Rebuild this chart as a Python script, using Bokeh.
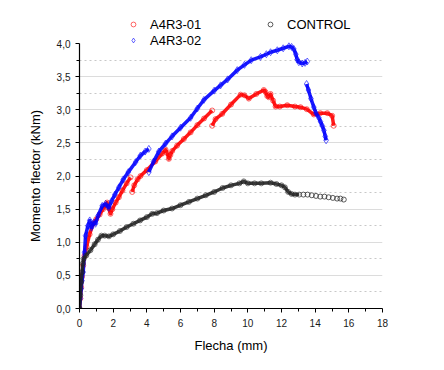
import numpy as np
from bokeh.plotting import figure
from bokeh.models import (Range1d, FixedTicker, CustomJSTickFormatter, Legend, LegendItem)
from bokeh.embed import file_html
from bokeh.resources import INLINE

nan = np.nan

# ---- data ----
red_x = [0.0, 0.05, 0.1, 0.15, 0.22, 0.3, 0.42, 0.6, 0.81, 1.0, 1.2, 1.4, 1.64, 1.72, 1.84, 1.95, 2.15, 2.34, 2.55, 2.8, 3.03,
         nan,
         3.13, 3.25, 3.45, 3.62, 4.0, 4.5, 4.91, 5.11, 5.2, 5.31, 5.4, 5.51, 5.8, 6.2, 6.6, 7.0, 7.4, 7.88,
         nan,
         7.88, 8.08, 8.48, 9.0, 9.57, 9.8, 10.06, 10.5, 10.95, 11.05, 11.15, 11.25, 11.35, 11.5, 11.65, 11.9, 12.34,
         12.8, 13.13, 13.5, 13.92, 14.3, 14.72, 15.01, 15.1]
red_y = [0.0, 0.15, 0.32, 0.48, 0.65, 0.80, 0.93, 1.12, 1.28, 1.35, 1.42, 1.50, 1.60, 1.52, 1.43, 1.50, 1.60, 1.68, 1.78, 1.89, 1.98,
         nan,
         1.76, 1.86, 1.95, 2.00, 2.09, 2.22, 2.34, 2.40, 2.35, 2.26, 2.32, 2.38, 2.46, 2.56, 2.66, 2.77, 2.87, 2.99,
         nan,
         2.76, 2.86, 2.94, 3.08, 3.23, 3.22, 3.17, 3.24, 3.30, 3.27, 3.21, 3.19, 3.24, 3.14, 3.05, 3.05, 3.07,
         3.05, 3.04, 3.01, 2.93, 2.95, 2.95, 2.91, 2.76]

blue_x = [0.0, 0.05, 0.1, 0.15, 0.22, 0.3, 0.36, 0.5, 0.61, 0.71, 0.85, 0.95, 1.1, 1.35, 1.55, 1.74, 1.9, 2.1, 2.34, 2.6, 2.9,
          3.33, 3.62, 3.9, 4.12,
          nan,
          4.12, 4.4, 4.71, 5.11, 5.5, 6.0, 6.6, 7.0, 7.39, 8.0, 8.38, 8.8, 9.37, 9.8, 10.2, 10.75, 11.1, 11.35, 11.75,
          12.1, 12.44, 12.6, 12.73, 12.85, 12.93, 13.03, 13.23, 13.4, 13.53,
          nan,
          13.49, 13.6, 13.75, 13.92, 14.05, 14.22, 14.32, 14.42, 14.52, 14.6, 14.65]
blue_y = [0.0, 0.15, 0.3, 0.42, 0.55, 0.85, 1.10, 1.25, 1.33, 1.22, 1.30, 1.28, 1.40, 1.55, 1.58, 1.52, 1.62, 1.72, 1.83, 1.95, 2.06,
          2.21, 2.31, 2.37, 2.41,
          nan,
          2.06, 2.22, 2.37, 2.49, 2.60, 2.73, 2.88, 3.02, 3.15, 3.29, 3.37, 3.46, 3.60, 3.68, 3.75, 3.80, 3.84, 3.87, 3.90,
          3.93, 3.96, 3.95, 3.92, 3.84, 3.76, 3.72, 3.70, 3.71, 3.73,
          nan,
          3.39, 3.30, 3.17, 3.04, 2.95, 2.88, 2.82, 2.76, 2.69, 2.60, 2.54]

control_x = [0.0, 0.05, 0.1, 0.15, 0.2, 0.25, 0.4, 0.65, 0.9, 1.1, 1.3, 1.5, 1.75, 2.0, 2.4, 2.8, 3.2, 3.6, 4.0, 4.32,
             4.6, 5.0, 5.5, 6.0, 6.5, 7.0, 7.5, 8.0, 8.5, 9.0, 9.5, 9.76, 10.0, 10.4, 10.8, 11.35, 11.7, 12.0, 12.2,
             12.4, 12.6, 12.8, 13.05]
control_y = [0.0, 0.2, 0.4, 0.55, 0.68, 0.75, 0.80, 0.88, 0.97, 1.04, 1.10, 1.10, 1.09, 1.12, 1.17, 1.23, 1.28, 1.33, 1.38, 1.43,
             1.44, 1.48, 1.51, 1.56, 1.61, 1.66, 1.71, 1.76, 1.82, 1.86, 1.89, 1.92, 1.89, 1.89, 1.89, 1.90, 1.88, 1.86, 1.83,
             1.76, 1.73, 1.72, 1.72]
control_tail_x = [13.3, 13.55, 13.8, 14.05, 14.3, 14.55, 14.8, 15.05, 15.3, 15.5, 15.7]
control_tail_y = [1.72, 1.72, 1.71, 1.70, 1.69, 1.69, 1.68, 1.67, 1.66, 1.66, 1.645]

series_names = ["A4R3-01", "A4R3-02", "CONTROL"]

x_ticks = [0, 2, 4, 6, 8, 10, 12, 14, 16, 18]
x_minor = [1, 3, 5, 7, 9, 11, 13, 15, 17]
y_ticks = [0.0, 0.5, 1.0, 1.5, 2.0, 2.5, 3.0, 3.5, 4.0]
y_tick_labels = ["0,0", "0,5", "1,0", "1,5", "2,0", "2,5", "3,0", "3,5", "4,0"]
y_minor = [0.25, 0.75, 1.25, 1.75, 2.25, 2.75, 3.25, 3.75]
grid_major = [0.5, 1.0, 1.5, 2.0, 2.5, 3.0, 3.5]

FONT = "Liberation Sans"
NBSP = "\u00a0"

# frame extends above 4.0 to host the legend; the y axis line stops at 4.0
p = figure(width=430, height=356, output_backend="svg", toolbar_location=None,
           x_range=Range1d(0, 18), y_range=Range1d(0, 4.44),
           min_border_left=79, min_border_top=14, min_border_right=48, min_border_bottom=48)
p.outline_line_color = None
p.background_fill_color = "white"
p.border_fill_color = "white"

# grids
p.xgrid.visible = False
p.ygrid.ticker = FixedTicker(ticks=grid_major, minor_ticks=y_minor)
p.ygrid.grid_line_color = "#dcdcdc"
p.ygrid.grid_line_width = 1
p.ygrid.minor_grid_line_color = "#c8c8c8"
p.ygrid.minor_grid_line_dash = "2 3"
p.ygrid.minor_grid_line_width = 1

# axes
p.xaxis.ticker = FixedTicker(ticks=x_ticks, minor_ticks=x_minor)
p.yaxis.ticker = FixedTicker(ticks=y_ticks, minor_ticks=y_minor)
p.yaxis.bounds = (0, 4)
p.yaxis.formatter = CustomJSTickFormatter(args=dict(tvals=y_ticks, tlabels=y_tick_labels), code="""
const i = tvals.findIndex(t => Math.abs(t - tick) < 1e-9);
return i >= 0 ? tlabels[i] : '';
""")
for ax in (p.xaxis[0], p.yaxis[0]):
    ax.axis_line_color = "#000000"
    ax.axis_line_width = 1.2
    ax.major_tick_line_color = "#000000"
    ax.minor_tick_line_color = "#000000"
    ax.major_tick_in = 0
    ax.major_tick_out = 4
    ax.minor_tick_in = 0
    ax.minor_tick_out = 3
    ax.major_label_text_font = FONT
    ax.major_label_text_font_size = "10px"
    ax.major_label_text_color = "#1a1a1a"
    ax.axis_label_text_font = FONT
    ax.axis_label_text_font_size = "13px"
    ax.axis_label_text_font_style = "normal"
    ax.axis_label_text_color = "#000000"
p.xaxis.axis_label = "Flecha (mm)"
# trailing non-breaking spaces centre the visible label on the 0-4 axis span rather than the taller frame
p.yaxis.axis_label = "Momento flector (kNm)" + NBSP * 8
p.xaxis.major_label_standoff = 6
p.yaxis.major_label_standoff = 5
p.xaxis.axis_label_standoff = 8
p.yaxis.axis_label_standoff = 11

# series
p.line(red_x, red_y, line_color="#ff0000", line_width=3.5, line_alpha=0.9, line_join="round")
r_red = p.scatter(red_x, red_y, marker="circle", size=5, fill_color=None, line_color="#ff0000", line_alpha=0.6)

p.line(blue_x, blue_y, line_color="#0000ff", line_width=3.5, line_alpha=0.9, line_join="round")
r_blue = p.scatter(blue_x, blue_y, marker="diamond", size=7, fill_color=None, line_color="#0000ff", line_alpha=0.6)

p.line(control_x, control_y, line_color="#222222", line_width=3.5, line_alpha=0.9, line_join="round")
p.scatter(control_x, control_y, marker="circle", size=5, fill_color=None, line_color="#222222", line_alpha=0.6)
r_ctrl = p.scatter(control_tail_x, control_tail_y, marker="circle", size=5, fill_color=None,
                   line_color="#333333", line_alpha=0.8)

legend = Legend(items=[LegendItem(label=series_names[0], renderers=[r_red]),
                       LegendItem(label=series_names[1], renderers=[r_blue]),
                       LegendItem(label=series_names[2], renderers=[r_ctrl])],
                location=(48, 260), orientation="vertical", nrows=2,
                glyph_width=12, glyph_height=12, label_height=16, label_width=114,
                label_standoff=11, spacing=0, padding=0, margin=0,
                border_line_color=None, background_fill_alpha=0,
                label_text_font=FONT, label_text_font_size="13px", label_text_color="#000000")
p.add_layout(legend, "center")

open("out.html", "w").write(file_html(p, INLINE))
